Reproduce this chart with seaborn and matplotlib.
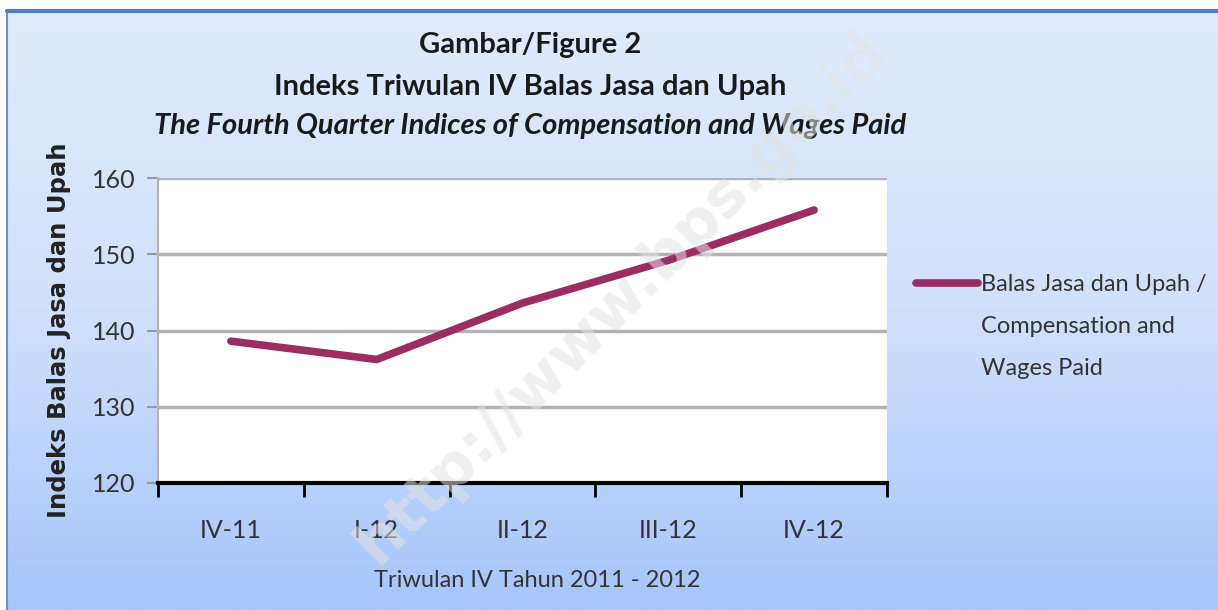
import numpy as np
import pandas as pd
import matplotlib
matplotlib.use("Agg")
import matplotlib.pyplot as plt
import seaborn as sns
from matplotlib.colors import LinearSegmentedColormap

categories = ["IV-11", "I-12", "II-12", "III-12", "IV-12"]
values = [138.6, 136.2, 143.6, 149.2, 155.8]
legend_lines = ["Balas Jasa dan Upah /", "Compensation and", "Wages Paid"]
yticks = [120, 130, 140, 150, 160]

sns.set_theme(style="white")
FONT = ["Lato", "DejaVu Sans"]
plt.rcParams["font.family"] = FONT

W, H = 1218, 610
fig = plt.figure(figsize=(12.18, 6.10), dpi=100)

# background panel with gradient
bg = fig.add_axes([0, 0, 1, 1], zorder=-10)
bg.set_xlim(0, W); bg.set_ylim(H, 0)
bg.axis("off")
grad = np.linspace(0, 1, 256).reshape(-1, 1)
cmap = LinearSegmentedColormap.from_list("bg", ["#e0ebfc", "#d0e1fb", "#a6c5fb"])
bg.imshow(grad, aspect="auto", cmap=cmap, extent=[7, W, H, 11], origin="upper")
bg.set_xlim(0, W); bg.set_ylim(H, 0)
bg.plot([7, 7], [10, H], color="#6f93c4", lw=1.5)
bg.plot([7, W], [10.5, 10.5], color="#4f7fbf", lw=3)

# plot area: x 158..887, y 178..483 (pixels)
ax = fig.add_axes([158 / W, 1 - 483 / H, (887 - 158) / W, (483 - 178) / H])
ax.set_facecolor("white")

df = pd.DataFrame({"x": np.arange(len(categories)), "value": values, "series": legend_lines[0]})
sns.lineplot(data=df, x="x", y="value", hue="series", palette=["#9b2d62"],
             linewidth=5.5, ax=ax, solid_capstyle="round", legend=True)

ax.set_xlim(-0.5, len(categories) - 0.5)
ax.set_ylim(120, 160)
ax.set_yticks(yticks)
ax.set_yticklabels([str(t) for t in yticks], fontsize=18, color="#333333")
ax.yaxis.grid(True, color="#b3b3b3", linewidth=2.5)
ax.set_axisbelow(True)

ax.set_xticks(np.arange(-0.5, len(categories), 1.0))
ax.set_xticklabels([])
ax.set_xticks(np.arange(len(categories)), minor=True)
ax.set_xticklabels(categories, minor=True, fontsize=18, color="#333333")
ax.tick_params(axis="x", which="major", length=10, width=2, color="black", direction="out", bottom=True)
ax.tick_params(axis="x", which="minor", length=0, pad=26)
ax.tick_params(axis="y", length=8, width=1.5, color="#999999", direction="out", left=True, pad=8)

for s in ["top", "right"]:
    ax.spines[s].set_visible(False)
ax.spines["left"].set_color("#b3b3b3")
ax.spines["left"].set_linewidth(1.5)
ax.spines["bottom"].set_color("black")
ax.spines["bottom"].set_linewidth(3)

ax.set_xlabel("Triwulan IV Tahun 2011 - 2012", fontsize=17, color="#333333")
ax.xaxis.set_label_coords(0.52, -0.285)
ax.set_ylabel("Indeks Balas Jasa dan Upah", fontsize=17.5, fontweight="bold", color="#222222",
              family=["DejaVu Sans"])
ax.yaxis.set_label_coords(-0.119, 0.5)

leg = ax.legend(loc="upper left", bbox_to_anchor=(1.04, 0.685), frameon=False,
                fontsize=17, handlelength=2.6, handletextpad=0.15, labelcolor="#333333",
                borderaxespad=0, borderpad=0)
for line in leg.get_lines():
    line.set_linewidth(5.5)

fig.canvas.draw()
tb = leg.get_texts()[0].get_window_extent()
x0 = tb.x0 / W
for i, txt in enumerate(legend_lines[1:], start=1):
    fig.text(x0, (tb.y0 + tb.y1) / 2 / H - i * 42 / H, txt, ha="left", va="center",
             fontsize=17, color="#333333")

fig.text(530 / W, 1 - 45 / H, "Gambar/Figure 2", ha="center", va="center",
         fontsize=21, fontweight="bold", color="#1a1a1a")
fig.text(530 / W, 1 - 87 / H, "Indeks Triwulan IV Balas Jasa dan Upah", ha="center", va="center",
         fontsize=21, fontweight="bold", color="#1a1a1a")
fig.text(530 / W, 1 - 126 / H, "The Fourth Quarter Indices of Compensation and Wages Paid",
         ha="center", va="center", fontsize=21, fontweight="bold", style="italic", color="#1a1a1a")

# watermark
fig.text(622 / W, 1 - 298 / H, "http://www.bps.go.id", ha="center", va="center", rotation=45,
         fontsize=44, fontweight="bold", color="#e2e2e2", alpha=0.55, family=["DejaVu Sans"], zorder=5)

fig.savefig("out.png", dpi=100)
